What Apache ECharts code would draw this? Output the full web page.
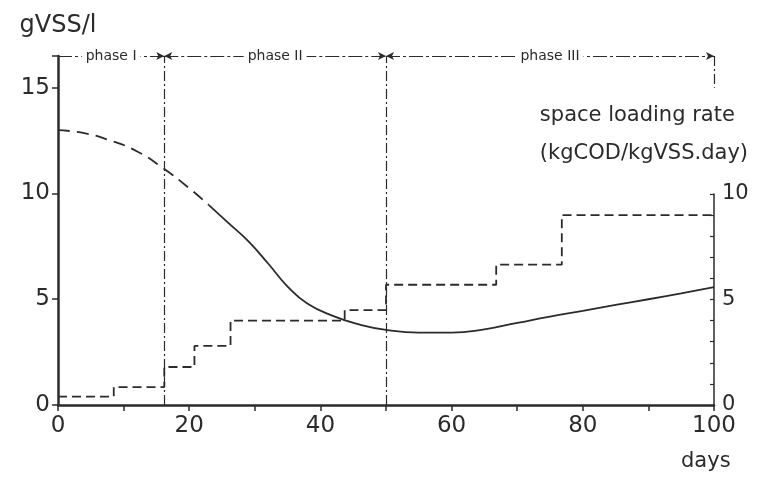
<!DOCTYPE html>
<html>
<head>
<meta charset="utf-8">
<script src="https://cdn.jsdelivr.net/npm/echarts@6/dist/echarts.min.js"></script>
<style>
  html, body { margin: 0; padding: 0; background: #fff; }
  #chart { width: 757px; height: 480px; }
</style>
</head>
<body>
<div id="chart"></div>
<script>
// biomass concentration (gVSS/l), dashed (estimated) part and measured part
var dashDays = [0, 4, 8, 12, 16, 20, 23];
var dashVss = [13.0, 12.85, 12.5, 12.0, 11.2, 10.25, 9.45];
var solidDays = [23, 26, 29, 32, 35, 38, 42, 46, 50, 55, 60, 65, 70, 75, 80, 85, 90, 95, 100];
var solidVss = [9.45, 8.6, 7.75, 6.7, 5.6, 4.8, 4.2, 3.8, 3.55, 3.42, 3.42, 3.58, 3.88, 4.18, 4.45, 4.73, 5.0, 5.28, 5.57];

// space loading rate (kgCOD/kgVSS.day), step changes
var stepDays = [0, 8.5, 16.2, 20.8, 26.3, 43.7, 50, 66.8, 76.8, 100];
var loadRate = [0.4, 0.85, 1.8, 2.8, 4.0, 4.5, 5.7, 6.65, 9.0, 9.0];

// phase boundaries
var phaseNames = ['phase I', 'phase II', 'phase III'];
var phaseBounds = [0, 16.2, 50, 100];

var xTicks = [0, 20, 40, 60, 80, 100];
var leftTicks = [0, 5, 10, 15];
var rightTicks = [0, 5, 10];

var leftMax = 16.5;
var ink = '#2b2b2b';
var font = 'DejaVu Sans';

function zip(a, b) {
    var out = [];
    for (var i = 0; i < a.length; i++) out.push([a[i], b[i]]);
    return out;
}

var phaseLines = [];
for (var i = 0; i < phaseNames.length; i++) {
    phaseLines.push([
        { coord: [phaseBounds[i], leftMax], symbol: i === 0 ? 'none' : 'arrow' },
        { coord: [phaseBounds[i + 1], leftMax], symbol: 'arrow', name: phaseNames[i] }
    ]);
}

var myChart = echarts.init(document.getElementById('chart'));

var option = {
    animation: false,
    backgroundColor: '#fff',
    title: [
        {
            text: 'space loading rate\n(kgCOD/kgVSS.day)',
            right: 4, top: 92,
            textStyle: { fontFamily: font, fontSize: 21, fontWeight: 'normal', color: ink, lineHeight: 38, align: 'right' }
        },
        {
            text: 'days',
            left: 676, top: 446,
            textStyle: { fontFamily: font, fontSize: 21, fontWeight: 'normal', color: ink }
        }
    ],
    grid: [
        { left: 58, right: 43, top: 56, bottom: 75 },
        { left: 58, right: 43, top: 194, bottom: 75 }
    ],
    xAxis: [
        {
            type: 'value', gridIndex: 0, min: 0, max: 100, interval: 10,
            axisLine: { lineStyle: { color: ink, width: 2.5 } },
            axisTick: { length: 6, lineStyle: { color: ink, width: 1.5 } },
            axisLabel: {
                margin: 10, fontFamily: font, fontSize: 23, color: ink,
                formatter: function (v) { return xTicks.indexOf(v) >= 0 ? String(v) : ''; }
            },
            splitLine: { show: false }
        },
        {
            type: 'value', gridIndex: 1, min: 0, max: 100, show: false
        }
    ],
    yAxis: [
        {
            type: 'value', gridIndex: 0, min: 0, max: leftMax, interval: 5,
            name: 'gVSS/l', nameLocation: 'end', nameGap: 18,
            nameTextStyle: { fontFamily: font, fontSize: 24, color: ink, align: 'center' },
            axisLine: { show: true, onZero: false, lineStyle: { color: ink, width: 2.5 } },
            axisTick: { show: true, length: 6, lineStyle: { color: ink, width: 1.5 } },
            axisLabel: {
                margin: 8, fontFamily: font, fontSize: 23, color: ink,
                formatter: function (v) { return leftTicks.indexOf(v) >= 0 ? String(v) : ''; }
            },
            splitLine: { show: false }
        },
        {
            type: 'value', gridIndex: 1, position: 'right', min: 0, max: 10, interval: 1,
            axisLine: { show: true, onZero: false, lineStyle: { color: ink, width: 1.5 } },
            axisTick: { show: true, inside: true, length: 4, lineStyle: { color: ink, width: 1.2 } },
            axisLabel: {
                margin: 8, fontFamily: font, fontSize: 21, color: ink,
                formatter: function (v) { return rightTicks.indexOf(v) >= 0 ? String(v) : ''; }
            },
            splitLine: { show: false }
        }
    ],
    series: [
        {
            name: 'biomass (estimated)',
            type: 'line', xAxisIndex: 0, yAxisIndex: 0,
            data: zip(dashDays, dashVss),
            smooth: 0.5, showSymbol: false,
            lineStyle: { color: ink, width: 1.8, type: [12, 7] },
            markLine: {
                silent: true, symbol: 'none',
                lineStyle: { color: ink, width: 1.2, type: [10, 3, 2, 3] },
                label: { show: false },
                data: [
                    { xAxis: phaseBounds[1] },
                    { xAxis: phaseBounds[2] },
                    [{ coord: [100, leftMax] }, { coord: [100, 15] }]
                ]
            }
        },
        {
            name: 'biomass',
            type: 'line', xAxisIndex: 0, yAxisIndex: 0,
            data: zip(solidDays, solidVss),
            smooth: 0.5, showSymbol: false,
            lineStyle: { color: ink, width: 1.8 },
            markLine: {
                silent: true, symbolSize: [6, 8],
                lineStyle: { color: ink, width: 1.2, type: [14, 3, 3, 3] },
                label: {
                    show: true, position: 'middle', formatter: '{b}',
                    fontFamily: font, fontSize: 14, color: ink,
                    backgroundColor: '#fff', padding: [1, 4], distance: -8
                },
                data: phaseLines
            }
        },
        {
            name: 'space loading rate',
            type: 'line', xAxisIndex: 1, yAxisIndex: 1,
            data: zip(stepDays, loadRate),
            step: 'end', showSymbol: false,
            lineStyle: { color: ink, width: 1.8, type: [9, 5] }
        }
    ]
};

myChart.setOption(option);
</script>
</body>
</html>
